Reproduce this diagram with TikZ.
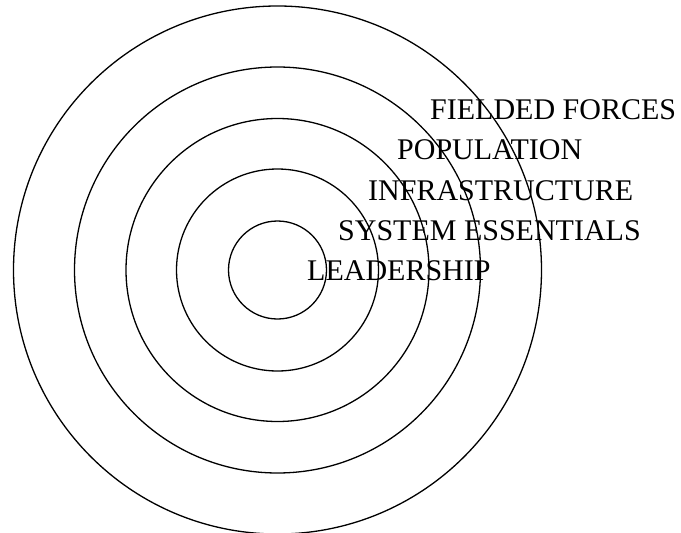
\documentclass[tikz,border=0pt]{standalone}
\usepackage{fontspec}
\setmainfont{Liberation Serif}
\begin{document}
\begin{tikzpicture}[x=1pt,y=-1pt,
  ring/.style={draw=black,line width=1.3pt},
  lbl/.style={anchor=base west,inner sep=0pt,font=\fontsize{30}{30}\selectfont}]
\useasboundingbox (0,0) rectangle (681,533);
\coordinate (c) at (277.5,270);
\node[ring,circle,minimum size=528pt,inner sep=0pt] (r5) at (c) {};
\node[ring,circle,minimum size=406pt,inner sep=0pt] (r4) at (c) {};
\node[ring,circle,minimum size=303pt,inner sep=0pt] (r3) at (c) {};
\node[ring,circle,minimum size=202pt,inner sep=0pt] (r2) at (c) {};
\node[ring,circle,minimum size=98pt,inner sep=0pt] (r1) at (c) {};
\node[lbl] (t5) at (430,119) {FIELDED FORCES};
\node[lbl] (t4) at (397,159) {POPULATION};
\node[lbl] (t3) at (368,200) {INFRASTRUCTURE};
\node[lbl] (t2) at (338,240) {SYSTEM ESSENTIALS};
\node[lbl] (t1) at (307,280) {LEADERSHIP};
\end{tikzpicture}
\end{document}
